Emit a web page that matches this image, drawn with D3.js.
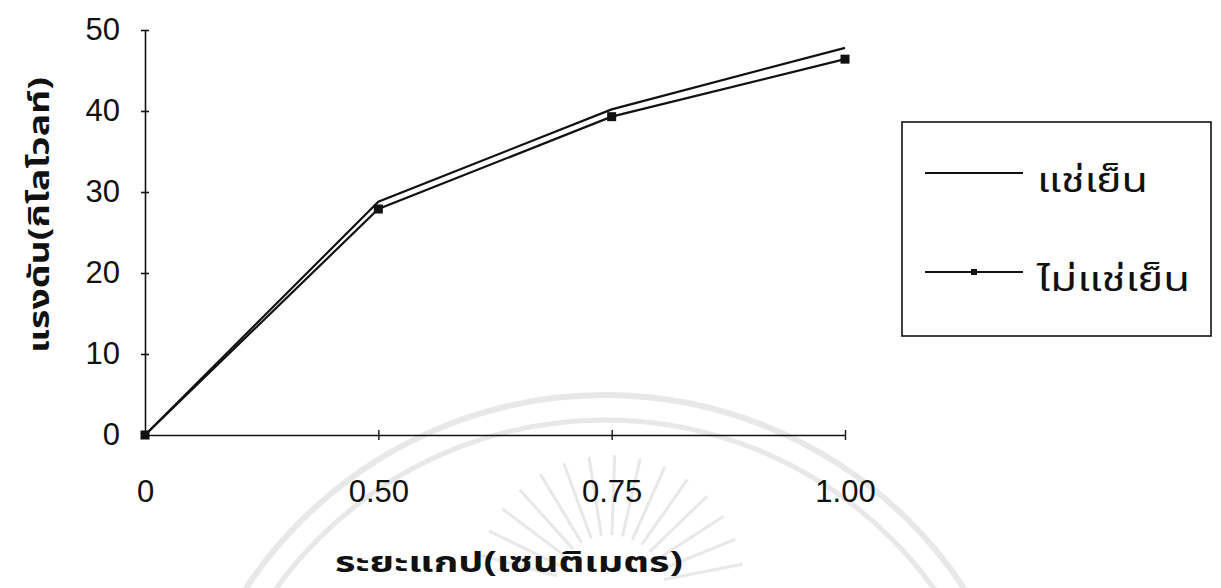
<!DOCTYPE html>
<html>
<head>
<meta charset="utf-8">
<script src="https://cdn.jsdelivr.net/npm/d3@7"></script>
<style>
  html, body { margin: 0; padding: 0; background: #fff; }
  svg { display: block; }
  .tick-label { font-family: "Liberation Sans", Arial, sans-serif; font-size: 31px; fill: #111; }
  .thai { font-family: "Noto Sans Thai", "Noto Sans", "DejaVu Sans", sans-serif; fill: #111; }
</style>
</head>
<body>
<svg id="chart" width="1221" height="588"></svg>
<script>
// Gap distance categories (cm) and breakdown voltage (kV)
const gapLabels = ["0", "0.50", "0.75", "1.00"];
const chilled = [0, 28.8, 40.2, 47.8];      // แช่เย็น
const unchilled = [0, 27.9, 39.3, 46.4];    // ไม่แช่เย็น
const yTicks = [0, 10, 20, 30, 40, 50];
const seriesNames = ["แช่เย็น", "ไม่แช่เย็น"];
const xTitle = "ระยะแกป(เซนติเมตร)";
const yTitle = "แรงดัน(กิโลโวลท์)";

const svg = d3.select("#chart");

// faint background emblem
const wm = svg.append("g").attr("fill", "none").attr("stroke", "#e8e8e8");
wm.append("circle").attr("cx", 605).attr("cy", 825).attr("r", 430).attr("stroke-width", 6);
wm.append("circle").attr("cx", 605).attr("cy", 825).attr("r", 405).attr("stroke-width", 5);
const rayAngles = d3.range(-165, -10, 11);
rayAngles.forEach(a => {
  const r = a * Math.PI / 180;
  wm.append("line")
    .attr("x1", 610 + 55 * Math.cos(r)).attr("y1", 590 + 55 * Math.sin(r))
    .attr("x2", 610 + 135 * Math.cos(r)).attr("y2", 590 + 135 * Math.sin(r))
    .attr("stroke-width", 3);
});

const x = d3.scalePoint().domain(gapLabels).range([145, 845]);
const y = d3.scaleLinear().domain([0, 50]).range([435, 30]);

// y axis
const yAxis = svg.append("g").attr("transform", "translate(145,0)")
  .call(d3.axisLeft(y).tickValues(yTicks).tickSize(0).tickPadding(25).tickFormat(d3.format("d")));
yAxis.select(".domain").attr("stroke", "#111").attr("stroke-width", 1.6);
yAxis.selectAll(".tick line").attr("x1", -4).attr("x2", 4).attr("stroke", "#111").attr("stroke-width", 1.6);
yAxis.selectAll(".tick text").attr("class", "tick-label").attr("font-family", null).attr("font-size", null);

// x axis
const xAxis = svg.append("g").attr("transform", "translate(0,435)")
  .call(d3.axisBottom(x).tickSize(0).tickPadding(43));
xAxis.select(".domain").attr("stroke", "#111").attr("stroke-width", 1.6);
xAxis.selectAll(".tick line").attr("y1", -5).attr("y2", 5).attr("stroke", "#111").attr("stroke-width", 1.4)
  .filter(d => d === "0").remove();
xAxis.selectAll(".tick text").attr("class", "tick-label").attr("font-family", null).attr("font-size", null)
  .attr("dy", 0).attr("y", 67);

// series lines
const line = d3.line().x((d, i) => x(gapLabels[i])).y(d => y(d));
svg.append("path").datum(chilled).attr("d", line)
  .attr("fill", "none").attr("stroke", "#111").attr("stroke-width", 2.2);
svg.append("path").datum(unchilled).attr("d", line)
  .attr("fill", "none").attr("stroke", "#111").attr("stroke-width", 2.2);
svg.append("g").selectAll("rect").data(unchilled).join("rect")
  .attr("x", (d, i) => x(gapLabels[i]) - 4.5).attr("y", d => y(d) - 4.5)
  .attr("width", 9).attr("height", 9).attr("fill", "#111");

// axis titles
svg.append("text").attr("class", "thai")
  .attr("x", 335).attr("y", 572)
  .attr("textLength", 348).attr("lengthAdjust", "spacingAndGlyphs")
  .attr("font-size", 28).attr("font-weight", "bold").text(xTitle);
svg.append("text").attr("class", "thai")
  .attr("transform", "translate(49,353) rotate(-90)")
  .attr("textLength", 276).attr("lengthAdjust", "spacingAndGlyphs")
  .attr("font-size", 29).attr("font-weight", "bold").text(yTitle);

// legend
const lg = svg.append("g");
lg.append("rect").attr("x", 902).attr("y", 122).attr("width", 309).attr("height", 214)
  .attr("fill", "#fff").attr("stroke", "#111").attr("stroke-width", 1.6);
const rows = [173, 272];
const legendWidths = [111, 153];
seriesNames.forEach((name, i) => {
  lg.append("line").attr("x1", 925).attr("x2", 1023).attr("y1", rows[i]).attr("y2", rows[i])
    .attr("stroke", "#111").attr("stroke-width", 1.8);
  if (i === 1) {
    lg.append("rect").attr("x", 971).attr("y", rows[i] - 3).attr("width", 6).attr("height", 6).attr("fill", "#111");
  }
  lg.append("text").attr("class", "thai").attr("x", 1037).attr("y", rows[i] + 19)
    .attr("textLength", legendWidths[i]).attr("lengthAdjust", "spacingAndGlyphs")
    .attr("font-size", 33).text(name);
});
</script>
</body>
</html>
